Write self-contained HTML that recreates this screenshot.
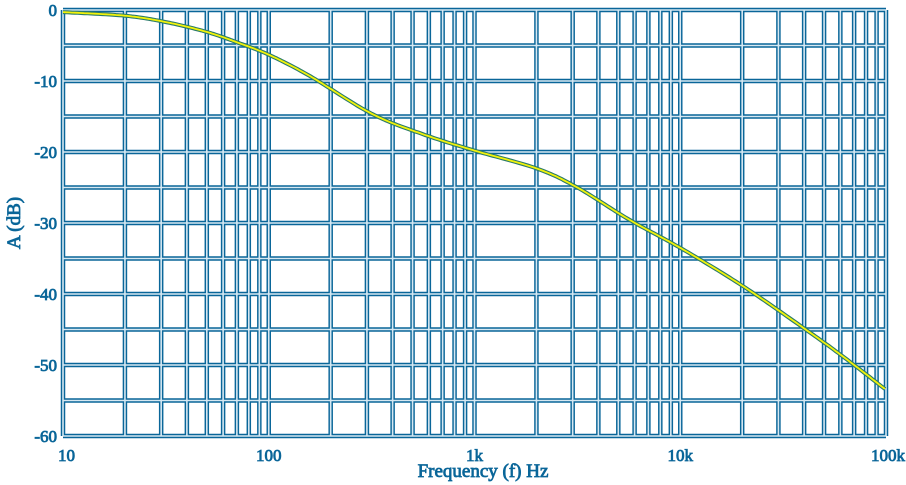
<!DOCTYPE html>
<html><head><meta charset="utf-8"><style>
html,body{margin:0;padding:0;background:#fff;}
svg{display:block;font-family:"Liberation Serif",serif;}
</style></head><body>
<svg id="s" width="906" height="485" viewBox="0 0 906 485"></svg>
<script>
const s=document.getElementById('s');
const NS='http://www.w3.org/2000/svg';
const X0=63,X1=886,Y0=10,Y1=436;
const px=l=>X0+(l-1)*(X1-X0)/4, py=d=>Y0+(-d)*(Y1-Y0)/60;
let dark='';
for(let dec=1;dec<5;dec++)for(let m=1;m<10;m++){const x=px(dec+Math.log10(m));dark+=`M${x},${Y0}V${Y1}`;}
dark+=`M${X1},${Y0}V${Y1}`;
for(let d=0;d<=60;d+=5){const y=py(-d);dark+=`M${X0},${y}H${X1}`;}
function add(tag,attrs,txt){const e=document.createElementNS(NS,tag);for(const k in attrs)e.setAttribute(k,attrs[k]);if(txt!=null)e.textContent=txt;s.appendChild(e);return e;}
add('path',{d:dark,stroke:'#0a6699',fill:'none','stroke-width':4.5});
add('path',{d:dark,stroke:'#d6e8f2',fill:'none','stroke-width':1.6});
const pts=[[1,-0.3],[1.3,-0.8],[1.5,-1.7],[1.7,-3.1],[1.85,-4.6],[2,-6.3],[2.2,-9.3],[2.5,-14.6],[2.75,-17.5],[3,-19.8],[3.3,-22.3],[3.5,-25],[3.75,-29.5],[4,-33.5],[4.3,-38.8],[4.6,-44.8],[4.8,-49],[5,-53.5]];
let d='';
for(let i=0;i<pts.length-1;i++){
 const p0=pts[Math.max(0,i-1)],p1=pts[i],p2=pts[i+1],p3=pts[Math.min(pts.length-1,i+2)];
 for(let t=0;t<=1;t+=0.05){
  const t2=t*t,t3=t2*t;
  const f=k=>0.5*((2*p1[k])+(-p0[k]+p2[k])*t+(2*p0[k]-5*p1[k]+4*p2[k]-p3[k])*t2+(-p0[k]+3*p1[k]-3*p2[k]+p3[k])*t3);
  d+=(d?'L':'M')+px(f(0)).toFixed(1)+','+py(f(1)).toFixed(1);
 }
}
add('path',{d:d,stroke:'#2a7a6a',fill:'none','stroke-width':4,'stroke-linejoin':'round'});
add('path',{d:d,stroke:'#f2f20a',fill:'none','stroke-width':1.8,'stroke-linejoin':'round'});
const ts={fill:'#0a6699',stroke:'#0a6699','stroke-width':0.8,'font-size':17};
for(let v=0;v>=-60;v-=10)add('text',Object.assign({x:57,y:py(v)+6,'text-anchor':'end'},ts),String(v));
const xl=[['10',1],['100',2],['1k',3],['10k',4],['100k',5]];
xl.forEach(([t,l],i)=>add('text',Object.assign({x:i==0?58:(i==4?px(l)+2:px(l)),y:461,'text-anchor':i==0?'start':'middle'},ts),t));
add('text',Object.assign({x:483,y:477,'text-anchor':'middle'},ts,{'font-size':19}),'Frequency (f) Hz');
add('text',Object.assign({x:0,y:0,'text-anchor':'middle',transform:'translate(20,223) rotate(-90)'},ts,{'font-size':19}),'A (dB)');
</script>
</body></html>
